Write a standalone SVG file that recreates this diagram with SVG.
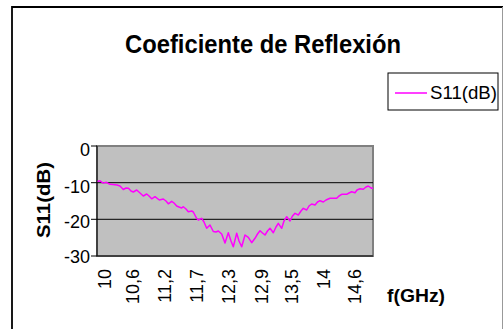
<svg xmlns="http://www.w3.org/2000/svg" width="504" height="329" viewBox="0 0 504 329">
<style>
.t{font-family:"Liberation Sans",Arial,sans-serif;fill:#000}
.b{font-weight:bold}
.ax{font-size:18px}
.grid{stroke:#000;stroke-width:1}
</style>
<rect width="504" height="329" fill="#fff"/>
<g id="chart-frame">
<path d="M12,329 V7 H503" fill="none" stroke="#000" stroke-width="1.8"/>
<path d="M502.5,7 V329" fill="none" stroke="#999" stroke-width="1"/>
</g>
<g id="title"><text class="t b" x="263" y="53" font-size="26.5" text-anchor="middle" textLength="276" lengthAdjust="spacingAndGlyphs">Coeficiente de Reflexión</text></g>
<g id="plot-area">
<rect x="97" y="146" width="276" height="110" fill="#C0C0C0" stroke="#808080" stroke-width="2"/>
<line class="grid" x1="97" y1="182.7" x2="373" y2="182.7"/>
<line class="grid" x1="97" y1="219.3" x2="373" y2="219.3"/>
</g>
<g id="axes">
<path d="M97,146 V256 H373" fill="none" stroke="#000" stroke-width="1"/>
<path d="M91,146 H97 M91,182.7 H97 M91,219.3 H97 M91,256 H97" stroke="#000" stroke-width="1"/>
<g class="t ax" text-anchor="end">
<text x="90" y="156">0</text>
<text x="90" y="193">-10</text>
<text x="90" y="228">-20</text>
<text x="90" y="263">-30</text>
</g>
<g class="t ax" text-anchor="end">
<text transform="translate(111,269) rotate(-90)">10</text>
<text transform="translate(139,269) rotate(-90)">10,6</text>
<text transform="translate(171,269) rotate(-90)">11,2</text>
<text transform="translate(203,269) rotate(-90)">11,7</text>
<text transform="translate(235,269) rotate(-90)">12,3</text>
<text transform="translate(268,269) rotate(-90)">12,9</text>
<text transform="translate(298,269) rotate(-90)">13,5</text>
<text transform="translate(330,269) rotate(-90)">14</text>
<text transform="translate(361,269) rotate(-90)">14,6</text>
</g>
<text class="t b" transform="translate(50,200) rotate(-90)" font-size="19" text-anchor="middle" textLength="76" lengthAdjust="spacingAndGlyphs">S11(dB)</text>
<text class="t b" x="387" y="302" font-size="19" textLength="58" lengthAdjust="spacingAndGlyphs">f(GHz)</text>
</g>
<g id="series">
<polyline fill="none" stroke="#FF00FF" stroke-width="1.5" stroke-linejoin="round" points="97.5,181.5 100,180.8 103,183 106.5,182.3 110,184.3 113,184.5 117,185 120,186 123.3,189.5 126,188 128.5,188.3 131,191 133.3,192 136.7,190 140,193 143.3,196 146.7,194 149,196 151.7,198.8 155,196.7 159.3,200 163.3,199 166,201 168.3,203.8 171.7,201.3 174,203 176.7,206 179,207 181.7,208 183.3,206.7 186,209 188.3,211.7 191.7,211 193.3,212 196.7,218.5 198.3,220 201.7,218.3 204,222 206.7,228.3 210,225 213.3,231.5 216,232 218.3,231 221.7,234 225,243 228.3,232.7 231,241 233.3,246.7 236.7,233.3 239,241 241.7,246.7 245,235 248.3,237.3 251.7,242.7 255,238.3 257.5,234 260,230.7 262.5,233 265,235 267.5,231 270,228.3 273.3,232.7 276,227 278.3,223.3 281.7,228.3 284,221 286.7,216.7 290,221 292.5,216 295,213.3 298.3,215 301,211 303.3,208.3 306.7,210 309,206 311.7,204 315,205 317.5,202 320,200.7 323.3,202 326,200 330,198.3 336.7,198.3 339,196 341.7,194.3 346.7,194.3 349,193 351.7,191.7 355,192.7 357,190 360,188.7 363.3,189.3 366,187 368.3,186 371.7,188.3 373,188"/>
</g>
<g id="legend">
<rect x="388" y="73" width="110" height="37" fill="#fff" stroke="#000" stroke-width="1"/>
<line x1="395" y1="93" x2="427" y2="93" stroke="#FF00FF" stroke-width="1.5"/>
<text class="t" x="430" y="99" font-size="19" textLength="67" lengthAdjust="spacingAndGlyphs">S11(dB)</text>
</g>
</svg>
